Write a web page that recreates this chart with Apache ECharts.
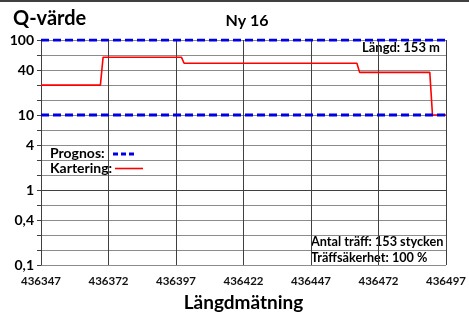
<!DOCTYPE html>
<html>
<head>
<meta charset="utf-8">
<script src="https://cdn.jsdelivr.net/npm/echarts@6/dist/echarts.min.js"></script>
<style>html,body{margin:0;padding:0;background:#fff}#c{width:469px;height:325px}</style>
</head>
<body>
<div id="c"></div>
<script>
// ---- data ----
const xStart = 436347;
const xEnd = 436497;
const xInterval = 25;
const yLogTicks = [2, 1.6, 1, 0.6, 0, -0.4, -1];
const yTickLabels = ['100', '40', '10', '4', '1', '0,4', '0,1'];
const prognosUpper = 100;
const prognosLower = 10;
const karteringX = [436347, 436369, 436370, 436399, 436400, 436464, 436465, 436491, 436492, 436497];
const karteringY = [25, 25, 59, 59, 49, 49, 37, 37, 10, 10];

const FONT = 'Lato';
const span = xEnd - xStart;

function txt(text, left, top, size) {
  return {type: 'text', left: left, top: top,
    style: {text: text, fontFamily: FONT, fontWeight: 'bold', fontSize: size, fill: '#000'}};
}

const chart = echarts.init(document.getElementById('c'), null, {renderer: 'canvas'});
chart.setOption({
  animation: false,
  backgroundColor: '#fff',
  grid: {left: 41, right: 22, top: 40, bottom: 60, containLabel: false},
  title: {
    text: 'Ny 16', left: 242, top: 8, textAlign: 'center',
    textStyle: {fontFamily: FONT, fontWeight: 'bold', fontSize: 16, color: '#000'}
  },
  xAxis: {
    type: 'value', min: 0, max: span, interval: xInterval,
    axisLine: {show: true, lineStyle: {color: '#404040', width: 1}},
    axisTick: {show: true, length: 4, lineStyle: {color: '#404040'}},
    splitLine: {show: true, lineStyle: {color: '#404040', width: 1}},
    axisLabel: {
      margin: 10, fontFamily: FONT, fontSize: 11.5, fontWeight: 'bold', color: '#111',
      formatter: v => String(xStart + v)
    },
    name: 'Längdmätning', nameLocation: 'middle', nameGap: 28,
    nameTextStyle: {fontFamily: FONT, fontSize: 19, fontWeight: 'bold', color: '#000'}
  },
  yAxis: [
    {type: 'log', min: 0.1, max: 100, show: false, position: 'left', splitLine: {show: false}},
    {
      type: 'value', min: -1, max: 2, interval: 0.2, position: 'left',
      axisLine: {show: true, lineStyle: {color: '#404040'}},
      axisTick: {show: true, length: 4, lineStyle: {color: '#404040'}},
      splitLine: {show: true, lineStyle: {color: '#8c8c8c', width: 1}},
      axisLabel: {
        margin: 7, fontFamily: FONT, fontSize: 14, fontWeight: 'bold', color: '#000',
        formatter: v => {
          const r = Math.round(v * 10) / 10;
          const i = yLogTicks.findIndex(t => Math.abs(t - r) < 1e-6);
          return i >= 0 ? yTickLabels[i] : '';
        }
      }
    }
  ],
  series: [
    {
      name: 'Prognos', type: 'line', yAxisIndex: 0, symbol: 'none', silent: true,
      data: [[0, prognosUpper], [span, prognosUpper]],
      lineStyle: {color: '#0000e6', width: 3, type: [8, 4]}, z: 5
    },
    {
      name: 'Prognos2', type: 'line', yAxisIndex: 0, symbol: 'none', silent: true,
      data: [[0, prognosLower], [span, prognosLower]],
      lineStyle: {color: '#0000e6', width: 3, type: [8, 4]}, z: 5
    },
    {
      name: 'Kartering', type: 'line', yAxisIndex: 0, symbol: 'none', silent: true,
      data: karteringX.map((x, i) => [x - xStart, karteringY[i]]),
      lineStyle: {color: '#ff0000', width: 1.6}, z: 4
    }
  ],
  graphic: [
    {type: 'rect', shape: {x: 0, y: 0, width: 469, height: 2}, style: {fill: '#404040'}},
    txt('Q-värde', 13, 9, 20),
    txt('Längd: 153 m', 362, 41, 13),
    txt('Prognos:', 50, 146, 14),
    txt('Kartering:', 50, 161, 14),
    {type: 'line', shape: {x1: 113, y1: 154, x2: 137, y2: 154}, style: {stroke: '#0000e6', lineWidth: 3, lineDash: [5, 3]}},
    {type: 'line', shape: {x1: 115, y1: 168.5, x2: 143, y2: 168.5}, style: {stroke: '#ff0000', lineWidth: 1.6}},
    txt('Antal träff: 153 stycken', 311, 235, 12.7),
    txt('Träffsäkerhet: 100 %', 311, 251, 12.7)
  ]
});
</script>
</body>
</html>
